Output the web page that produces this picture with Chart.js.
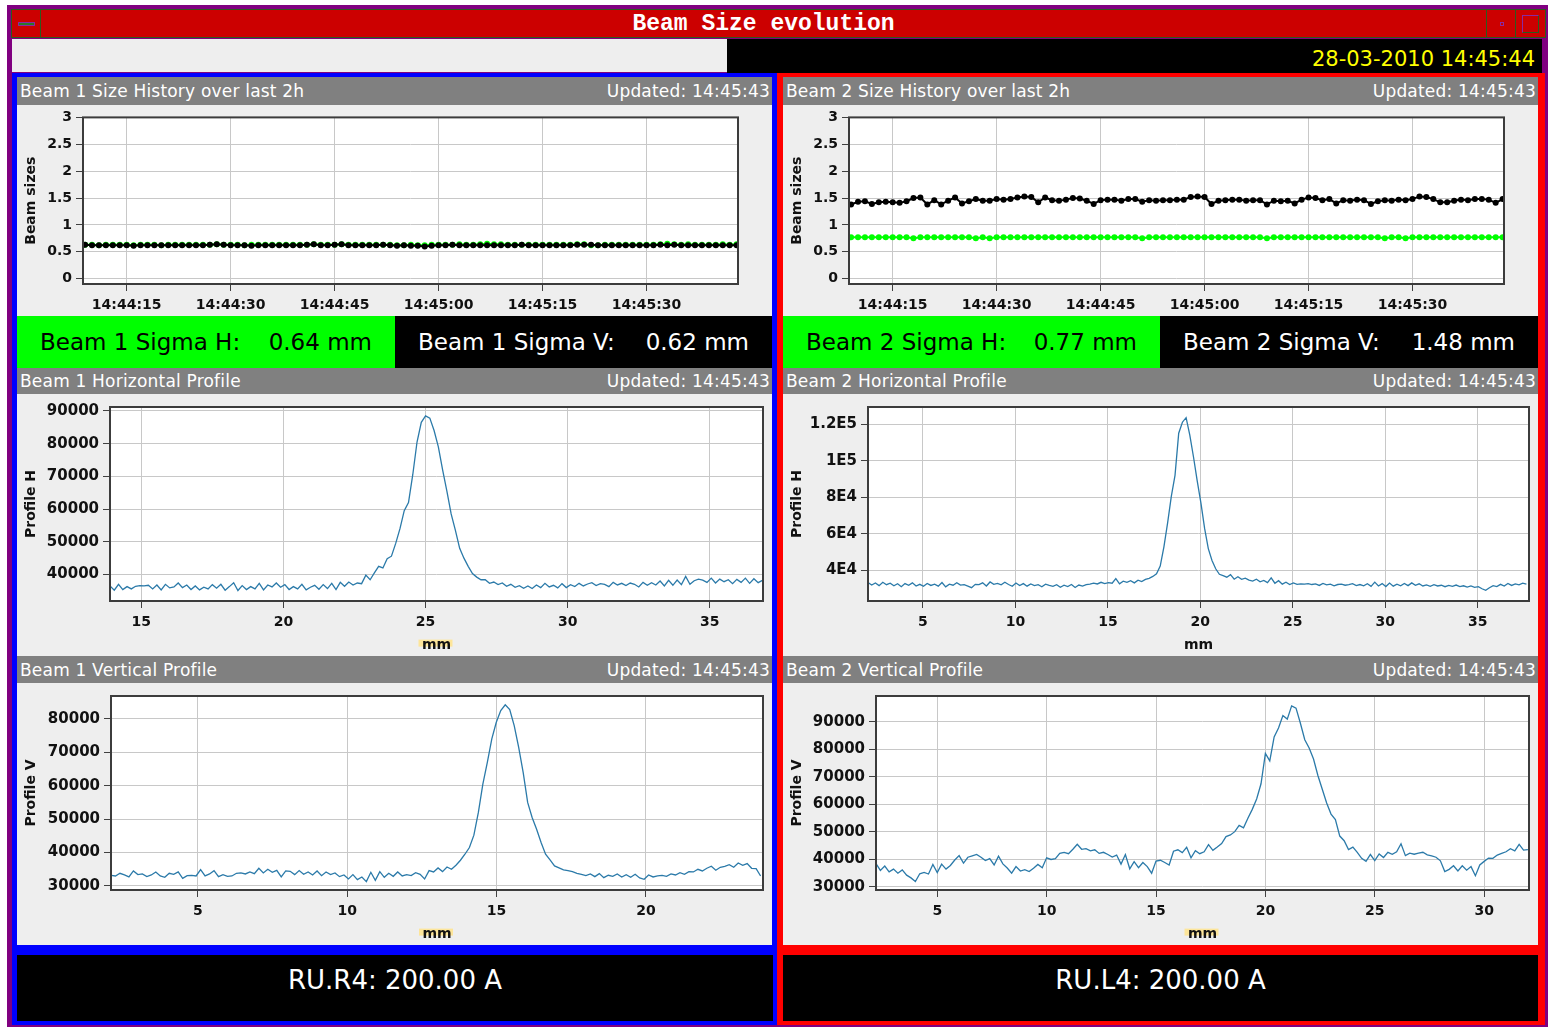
<!DOCTYPE html>
<html>
<head>
<meta charset="utf-8">
<title>Beam Size evolution</title>
<script src="https://cdn.jsdelivr.net/npm/chart.js@4.4.1/dist/chart.umd.min.js"></script>
<style>
  body { margin: 0; width: 1548px; height: 1027px; position: relative; overflow: hidden; background: #fff; font-family: "DejaVu Sans", sans-serif; }
  div, canvas { position: absolute; box-sizing: border-box; }
  .hdr { background: #808080; color: #fff; font-size: 17px; letter-spacing: 0.2px; display: flex; justify-content: space-between; padding: 0 2px 0 3px; width: 755px; }
  .plot { background: #eeeeee; }
  .sig { height: 52px; top: 316px; font-size: 23px; line-height: 52px; display: flex; justify-content: space-between; padding: 0 23px; }
  .green { background: #00ff00; color: #000; }
  .black { background: #000; color: #fff; }
  .ru { top: 955px; height: 66px; width: 756px; background: #000; color: #fff; font-size: 26px; line-height: 50px; text-align: center; }
  .btn { top: 9px; height: 29px; border: 1px solid #2d5a1e; }
</style>
</head>
<body>
<div style="left:7px;top:5px;width:1541px;height:1022px;background:#800080"></div>
<div style="left:11px;top:9px;width:1535px;height:29px;background:#cc0000;border:1px solid #2d5a1e"></div>
<div style="left:41px;top:9px;width:1445px;height:29px;color:#fff;font:bold 23px 'Liberation Mono',monospace;line-height:31px;text-align:center">Beam Size evolution</div>
<div class="btn" style="left:11px;width:30px"><div style="left:6px;top:12px;width:17px;height:4px;background:#2a7a2a;border:1px solid #8a2aa0"></div></div>
<div class="btn" style="left:1486px;width:30px"><div style="left:13px;top:12px;width:4px;height:4px;border:1px solid #8a2aa0"></div></div>
<div class="btn" style="left:1515px;width:31px"><div style="left:6px;top:5px;width:17px;height:18px;border:1px solid #8a2aa0;border-right-color:#2d5a1e;border-bottom-color:#2d5a1e"></div></div>
<div style="left:12px;top:39px;width:715px;height:33px;background:#eeeeee"></div>
<div style="left:727px;top:39px;width:815px;height:34px;background:#000;color:#ffff00;font-size:21px;line-height:41px;text-align:right;padding-right:7px">28-03-2010 14:45:44</div>

<div style="left:12px;top:73px;width:765px;height:952px;background:#0000ff"></div>
<div style="left:777px;top:73px;width:768px;height:952px;background:#ff0000"></div>

<div class="hdr" style="left:17px;top:77px;height:28px;line-height:29px"><span>Beam 1 Size History over last 2h</span><span>Updated: 14:45:43</span></div>
<canvas id="time1" class="plot" width="755" height="211" style="left:17px;top:105px"></canvas>
<div class="sig green" style="left:17px;width:378px"><span>Beam 1 Sigma H:</span><span>0.64 mm</span></div>
<div class="sig black" style="left:395px;width:377px"><span>Beam 1 Sigma V:</span><span>0.62 mm</span></div>
<div class="hdr" style="left:17px;top:368px;height:26px;line-height:27px"><span>Beam 1 Horizontal Profile</span><span>Updated: 14:45:43</span></div>
<canvas id="prof1h" class="plot" width="755" height="262" style="left:17px;top:394px"></canvas>
<div class="hdr" style="left:17px;top:656px;height:27px;line-height:29px"><span>Beam 1 Vertical Profile</span><span>Updated: 14:45:43</span></div>
<canvas id="prof1v" class="plot" width="755" height="262" style="left:17px;top:683px"></canvas>
<div class="ru" style="left:17px">RU.R4: 200.00 A</div>

<div class="hdr" style="left:783px;top:77px;height:28px;line-height:29px"><span>Beam 2 Size History over last 2h</span><span>Updated: 14:45:43</span></div>
<canvas id="time2" class="plot" width="755" height="211" style="left:783px;top:105px"></canvas>
<div class="sig green" style="left:783px;width:377px"><span>Beam 2 Sigma H:</span><span>0.77 mm</span></div>
<div class="sig black" style="left:1160px;width:378px"><span>Beam 2 Sigma V:</span><span>1.48 mm</span></div>
<div class="hdr" style="left:783px;top:368px;height:26px;line-height:27px"><span>Beam 2 Horizontal Profile</span><span>Updated: 14:45:43</span></div>
<canvas id="prof2h" class="plot" width="755" height="262" style="left:783px;top:394px"></canvas>
<div class="hdr" style="left:783px;top:656px;height:27px;line-height:29px"><span>Beam 2 Vertical Profile</span><span>Updated: 14:45:43</span></div>
<canvas id="prof2v" class="plot" width="755" height="262" style="left:783px;top:683px"></canvas>
<div class="ru" style="left:783px;width:755px">RU.L4: 200.00 A</div>

<script>
// size history: one reading per second, first one at 14:44:09
const firstSecond = 9;
const timeTickValues = [15, 30, 45, 60, 75, 90];
const timeTickLabels = ["14:44:15", "14:44:30", "14:44:45", "14:45:00", "14:45:15", "14:45:30"];
const sizeTickValues = [0, 0.5, 1, 1.5, 2, 2.5, 3];
const sizeTickLabels = ["0", "0.5", "1", "1.5", "2", "2.5", "3"];

const beam1SizeH = [
  0.63,0.63,0.62,0.63,0.63,0.63,0.63,0.62,0.63,0.63, 0.63,0.62,0.63,0.63,0.63,0.63,0.63,0.63,0.63,0.64,
  0.63,0.63,0.63,0.62,0.63,0.63,0.63,0.63,0.63,0.63, 0.63,0.63,0.63,0.64,0.63,0.63,0.63,0.64,0.63,0.63,
  0.63,0.63,0.63,0.63,0.63,0.62,0.62,0.63,0.62,0.62, 0.63,0.63,0.63,0.63,0.64,0.63,0.63,0.64,0.65,0.64,
  0.64,0.63,0.63,0.63,0.63,0.63,0.63,0.63,0.63,0.63, 0.63,0.64,0.64,0.62,0.62,0.63,0.63,0.63,0.63,0.63,
  0.63,0.63,0.63,0.64,0.65,0.64,0.63,0.64,0.63,0.63, 0.63,0.63,0.64,0.63,0.64];
const beam1SizeV = [
  0.63,0.62,0.62,0.62,0.62,0.62,0.62,0.61,0.62,0.62, 0.62,0.62,0.62,0.62,0.62,0.62,0.62,0.62,0.63,0.64,
  0.63,0.62,0.62,0.62,0.61,0.62,0.62,0.62,0.62,0.62, 0.62,0.62,0.63,0.64,0.62,0.62,0.63,0.64,0.62,0.62,
  0.62,0.62,0.62,0.63,0.62,0.61,0.62,0.61,0.61,0.60, 0.61,0.62,0.62,0.63,0.62,0.62,0.62,0.62,0.62,0.62,
  0.62,0.62,0.62,0.63,0.62,0.62,0.62,0.62,0.62,0.62, 0.62,0.63,0.63,0.63,0.62,0.62,0.62,0.62,0.62,0.62,
  0.62,0.62,0.62,0.63,0.62,0.63,0.62,0.62,0.62,0.62, 0.62,0.62,0.62,0.62,0.62];
const beam2SizeH = [
  0.77,0.77,0.77,0.77,0.77,0.77,0.77,0.77,0.77,0.75, 0.77,0.77,0.77,0.77,0.77,0.77,0.77,0.77,0.75,0.77,
  0.75,0.77,0.77,0.77,0.77,0.77,0.77,0.77,0.77,0.77, 0.77,0.77,0.77,0.77,0.77,0.77,0.77,0.77,0.77,0.77,
  0.77,0.77,0.75,0.77,0.77,0.77,0.77,0.77,0.77,0.77, 0.77,0.77,0.77,0.77,0.77,0.77,0.77,0.77,0.77,0.77,
  0.75,0.77,0.77,0.77,0.77,0.77,0.77,0.77,0.77,0.77, 0.77,0.77,0.77,0.77,0.77,0.77,0.77,0.75,0.77,0.77,
  0.75,0.77,0.77,0.77,0.77,0.77,0.77,0.77,0.77,0.77, 0.77,0.77,0.77,0.77,0.77];
const beam2SizeV = [
  1.38,1.43,1.44,1.39,1.42,1.43,1.42,1.41,1.44,1.50, 1.51,1.38,1.46,1.38,1.45,1.51,1.40,1.44,1.48,1.45,
  1.45,1.48,1.47,1.48,1.51,1.53,1.52,1.42,1.51,1.46, 1.45,1.47,1.50,1.49,1.45,1.39,1.46,1.47,1.47,1.45,
  1.48,1.48,1.43,1.46,1.45,1.46,1.46,1.47,1.47,1.52, 1.53,1.52,1.39,1.45,1.46,1.47,1.47,1.45,1.46,1.46,
  1.38,1.45,1.44,1.45,1.40,1.47,1.51,1.50,1.46,1.48, 1.40,1.46,1.45,1.47,1.46,1.39,1.44,1.46,1.45,1.47,
  1.46,1.48,1.53,1.52,1.48,1.42,1.42,1.45,1.47,1.46, 1.48,1.48,1.47,1.41,1.48];

// wire scan profiles, sampled every step mm from start
const beam1HStart = 13.9, beam1HStep = 0.15;
const beam1HTicks = [15, 20, 25, 30, 35];
const beam1HLevelTicks = [40000, 50000, 60000, 70000, 80000, 90000];
const beam1H = [
  36500,35200,37000,35400,36300,35600,36400,36600,36500,36700, 35600,36800,35300,37000,35900,36200,37400,36000,36800,35400,
  36500,35300,36100,35600,36900,35800,37000,35200,36300,37500, 35100,36600,35400,36300,35600,37300,35300,36800,36200,37400,
  36100,36900,35400,36300,35600,37000,35300,36100,36700,35500, 36900,35700,37300,35400,37600,36400,37700,36800,37400,37200,
  39800,38400,40500,42500,42000,44800,45600,49500,54000,59500, 62000,70500,80500,86500,88500,87800,84000,79000,72000,65500,
  58500,53500,48000,45000,42500,40300,39200,38400,38400,37300, 37700,36900,37400,36400,37000,36100,36600,35800,36500,35700,
  36800,36000,37300,36200,36700,35900,37200,36000,36900,36300, 37300,36500,37100,37500,36600,37200,37000,36300,37600,36800,
  37300,36600,37400,37000,36200,37600,36700,37500,36800,38000, 36500,38200,36700,38300,36900,39400,37000,38100,38600,38300,
  37600,38900,37400,38600,37800,38400,37200,38500,37600,38900, 37300,38700,37500,38200];

const beam2HStart = 2.03, beam2HStep = 0.2;
const beam2HTicks = [5, 10, 15, 20, 25, 30, 35];
const beam2HLevelTicks = [40000, 60000, 80000, 100000, 120000];
const beam2HLevelLabels = ["4E4", "6E4", "8E4", "1E5", "1.2E5"];
const beam2H = [
  33500,32100,33200,31800,33600,32300,33100,31700,32800,31200, 32900,32000,33300,31600,32500,31400,33000,31900,32600,31500,
  33500,31100,32600,32000,33400,32100,32300,31500,30700,32500, 32300,33300,31600,33800,32500,33000,32200,33600,32400,31400,
  33200,31800,32900,31500,32700,31800,32300,31200,32600,31900, 31400,32300,30900,32000,31300,32400,30800,32100,31500,32300,
  32600,33100,32700,33600,32900,33400,33100,35600,32800,34200, 33600,34500,33300,34800,34000,35200,35800,36800,38200,42500,
  53000,66000,80500,92000,115000,121000,123500,114000,102000,89000, 77000,63000,52000,45500,41000,38000,37200,36400,37800,35300,
  36600,35200,35900,34800,34300,35300,33900,34600,33400,36000, 33100,34500,32600,33700,32400,33300,32500,32800,32600,32900,
  32400,32700,31900,33000,32200,32600,31700,32400,32600,32000, 32300,32900,31800,32400,31700,32800,31400,33700,31600,32900,
  31300,33200,31500,32600,31700,33000,31800,33300,32000,32800, 31600,32200,31400,32300,31600,32000,31200,31900,31400,32100,
  31300,31700,31000,31600,30800,31200,30100,29200,30600,31800, 31300,32500,31600,33000,31900,32700,32200,33100,32600];

const beam1VStart = 2.09, beam1VStep = 0.15;
const beam1VTicks = [5, 10, 15, 20];
const beam1VLevelTicks = [30000, 40000, 50000, 60000, 70000, 80000];
const beam1V = [
  33200,33000,33800,33300,32700,34500,33400,33600,32800,33300, 34200,33000,32600,33800,33500,34200,32300,33100,33200,33000,
  34900,33000,33600,34600,32800,33400,32900,33000,33800,33900, 33600,34200,33700,35300,33900,35000,34100,34700,32700,34500,
  34400,33400,34600,33500,34200,33300,34500,33100,34200,33400, 33900,32800,33300,32100,33400,31900,32700,31300,34100,31700,
  34300,32600,33800,32900,34200,33000,33400,33100,34000,33500, 32100,34600,34200,35400,34300,35700,35000,36200,37700,39500,
  41500,45200,52000,60500,67000,74000,79000,82500,84200,82800, 78000,71500,64000,55000,50500,47000,43000,39500,37800,36000,
  35400,34800,34600,34300,33800,33500,33100,33600,32800,33700, 32500,33200,32900,33600,32700,33400,32600,33500,32400,32000,
  33300,32700,33000,33200,32900,33600,33300,34000,33500,34300, 34200,35000,34500,35300,35900,34700,35600,35900,36400,35600,
  36900,36200,36700,35300,35200,33000];

const beam2VStart = 2.2, beam2VStep = 0.2;
const beam2VTicks = [5, 10, 15, 20, 25, 30];
const beam2VLevelTicks = [30000, 40000, 50000, 60000, 70000, 80000, 90000];
const beam2V = [
  38500,36000,37600,35500,36500,35000,36200,34300,33300,32000, 34800,35300,34700,38200,35200,38300,36500,37800,39800,41400,
  38700,40800,41300,41800,40800,39600,40300,38000,41200,38400, 36900,35000,37400,35800,36300,35600,36800,38200,37000,40600,
  40000,40300,42200,42600,42100,43700,45500,43700,43900,43100, 43500,42200,42600,41800,40900,41600,38300,41800,36600,39200,
  37000,38900,37400,35000,39400,39700,38900,38000,43000,43500, 42500,44400,40600,43200,42100,42800,45400,43300,44500,45800,
  48300,48900,50100,52400,51500,55000,58200,62000,67500,78500, 75800,84500,87800,92300,91000,95800,95000,89500,83500,80500,
  76500,70500,65500,60500,56500,54500,48500,46800,43600,44500, 42600,40400,39300,41800,39600,42000,40700,42600,41900,42800,
  45700,41400,42300,41900,42300,42600,41700,41300,40800,39500, 35600,36400,37700,35800,37700,36100,37400,34100,38000,39300,
  40500,40400,41600,42200,42800,43900,43100,45500,43400,43600];

const FONT = "'DejaVu Sans', sans-serif";

// white plot area, dark frame, and the pale mark behind the "mm" label
const plotFrame = {
  id: "plotFrame",
  beforeDraw(chart) {
    const { ctx, chartArea: a } = chart;
    ctx.save();
    ctx.fillStyle = "#ffffff";
    ctx.fillRect(a.left, a.top, a.width, a.height);
    if (chart.options.plugins.plotFrame.mm) {
      const cx = (a.left + a.right) / 2;
      const cy = chart.height - 2 - 8.4;
      ctx.fillStyle = "#fde59a";
      ctx.fillRect(cx - 18, cy - 6, 34, 7);
    }
    ctx.restore();
  },
  afterDraw(chart) {
    const { ctx, chartArea: a } = chart;
    ctx.save();
    ctx.strokeStyle = "#3c3c3c";
    ctx.lineWidth = 2;
    ctx.strokeRect(a.left, a.top, a.width, a.height);
    ctx.restore();
  }
};

function axis(min, max, values, labels, title, size, fontSize) {
  return {
    type: "linear",
    min: min,
    max: max,
    afterBuildTicks: s => { s.ticks = values.map(v => ({ value: v })); },
    afterFit: s => { if (s.isHorizontal()) s.height = size; else s.width = size; },
    grid: { color: "#c8c8c8", lineWidth: 1, tickLength: 7, tickColor: "#404040", tickWidth: 1 },
    border: { display: false },
    ticks: {
      autoSkip: false, maxRotation: 0, padding: title === "mm" || !title ? 6 : 4, color: "#111",
      font: { family: FONT, weight: "bold", size: fontSize },
      callback: (v, i) => labels[i]
    },
    title: {
      display: !!title, text: title, color: "#111",
      font: { family: FONT, weight: "bold", size: 14 },
      padding: { top: 6, bottom: 2 }
    }
  };
}

function plot(id, o) {
  new Chart(document.getElementById(id), {
    type: "line",
    data: { datasets: o.datasets },
    options: {
      responsive: false,
      animation: false,
      devicePixelRatio: 1,
      layout: { padding: { left: 0, right: o.padRight, top: o.padTop, bottom: 0 } },
      plugins: { legend: { display: false }, tooltip: { enabled: false }, plotFrame: { mm: !!o.mm } },
      scales: {
        x: axis(o.xMin, o.xMax, o.xTicks, o.xLabels, o.xTitle, o.xHeight, 14),
        y: axis(o.yMin, o.yMax, o.yTicks, o.yLabels, o.yTitle, o.yWidth, o.yFont || 14)
      }
    },
    plugins: [plotFrame]
  });
}

function history(values) {
  return values.map((v, i) => ({ x: firstSecond + i, y: v }));
}

function profile(start, step, values) {
  return values.map((v, i) => ({ x: +(start + i * step).toFixed(2), y: v }));
}

function sizeSet(values, color) {
  return {
    data: history(values), borderColor: color, backgroundColor: color,
    borderWidth: 2, pointRadius: 3, pointBorderWidth: 0, pointBackgroundColor: color, tension: 0
  };
}

function profileSet(points) {
  return { data: points, borderColor: "#2b7aa9", borderWidth: 1.3, pointRadius: 0, tension: 0 };
}

const timeAxes = {
  xMin: 8.7, xMax: 103.2, xTicks: timeTickValues, xLabels: timeTickLabels, xHeight: 32,
  yMin: -0.1, yMax: 3, yTicks: sizeTickValues, yLabels: sizeTickLabels, yTitle: "Beam sizes", yWidth: 66,
  padRight: 34, padTop: 10
};

plot("time1", Object.assign({}, timeAxes, {
  datasets: [sizeSet(beam1SizeV, "#000000"), sizeSet(beam1SizeH, "#00ff00")]
}));
plot("time2", Object.assign({}, timeAxes, {
  datasets: [sizeSet(beam2SizeV, "#000000"), sizeSet(beam2SizeH, "#00ff00")]
}));

const levelLabels = values => values.map(v => String(v));

plot("prof1h", {
  datasets: [profileSet(profile(beam1HStart, beam1HStep, beam1H))],
  xMin: 13.9, xMax: 36.87, xTicks: beam1HTicks, xLabels: beam1HTicks.map(String), xTitle: "mm", xHeight: 55,
  yMin: 31900, yMax: 91200, yTicks: beam1HLevelTicks, yLabels: levelLabels(beam1HLevelTicks), yTitle: "Profile H", yWidth: 93, yFont: 15,
  padRight: 9, padTop: 9, mm: true
});
plot("prof1v", {
  datasets: [profileSet(profile(beam1VStart, beam1VStep, beam1V))],
  xMin: 2.09, xMax: 23.92, xTicks: beam1VTicks, xLabels: beam1VTicks.map(String), xTitle: "mm", xHeight: 55,
  yMin: 28800, yMax: 86850, yTicks: beam1VLevelTicks, yLabels: levelLabels(beam1VLevelTicks), yTitle: "Profile V", yWidth: 94, yFont: 15,
  padRight: 9, padTop: 10, mm: true
});
plot("prof2h", {
  datasets: [profileSet(profile(beam2HStart, beam2HStep, beam2H))],
  xMin: 2.03, xMax: 37.77, xTicks: beam2HTicks, xLabels: beam2HTicks.map(String), xTitle: "mm", xHeight: 55,
  yMin: 23400, yMax: 129300, yTicks: beam2HLevelTicks, yLabels: beam2HLevelLabels, yTitle: "Profile H", yWidth: 85, yFont: 15,
  padRight: 9, padTop: 9
});
plot("prof2v", {
  datasets: [profileSet(profile(beam2VStart, beam2VStep, beam2V))],
  xMin: 2.2, xMax: 32.05, xTicks: beam2VTicks, xLabels: beam2VTicks.map(String), xTitle: "mm", xHeight: 55,
  yMin: 28900, yMax: 99400, yTicks: beam2VLevelTicks, yLabels: levelLabels(beam2VLevelTicks), yTitle: "Profile V", yWidth: 93, yFont: 15,
  padRight: 9, padTop: 10, mm: true
});
</script>
</body>
</html>
